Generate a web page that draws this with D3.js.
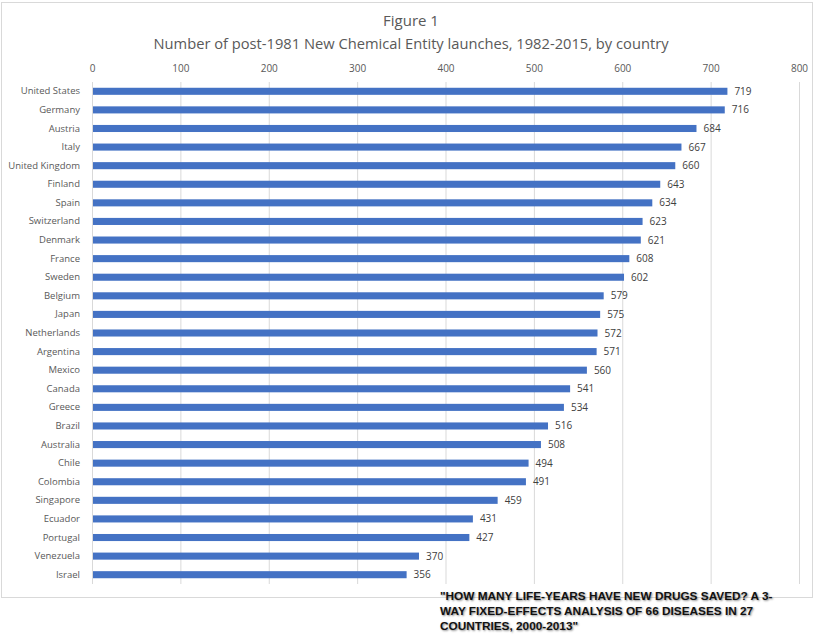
<!DOCTYPE html>
<html>
<head>
<meta charset="utf-8">
<script src="https://cdn.jsdelivr.net/npm/d3@7.9.0/dist/d3.min.js"></script>
<style>
  body { margin:0; background:#fff; }
  .tick text { font-family:"Open Sans", sans-serif; fill:#595959; }
  .foot { font-family:"Liberation Sans", Arial, sans-serif; font-weight:bold; font-size:11.8px; fill:#111;
          text-shadow:1px 1px 2px rgba(0,0,0,0.45); }
</style>
</head>
<body>
<script>
// data
const countries = ['United States','Germany','Austria','Italy','United Kingdom','Finland','Spain',
  'Switzerland','Denmark','France','Sweden','Belgium','Japan','Netherlands','Argentina','Mexico',
  'Canada','Greece','Brazil','Australia','Chile','Colombia','Singapore','Ecuador','Portugal',
  'Venezuela','Israel'];
const launches = [719,716,684,667,660,643,634,623,621,608,602,579,575,572,571,560,541,534,516,508,
  494,491,459,431,427,370,356];
const xTicks = [0,100,200,300,400,500,600,700,800];
const titleLines = ['Figure 1','Number of post-1981 New Chemical Entity launches, 1982-2015, by country'];
const footLines = ['"HOW MANY LIFE-YEARS HAVE NEW DRUGS SAVED? A 3-',
  'WAY FIXED-EFFECTS ANALYSIS OF 66 DISEASES IN 27','COUNTRIES, 2000-2013"'];

const W = 815, H = 642;
const M = { top:82, left:92, right:16, bottom:58 };
const svg = d3.select('body').append('svg').attr('width',W).attr('height',H);

// chart frame
svg.append('rect')
  .attr('x',1.5).attr('y',2.5).attr('width',811).attr('height',595)
  .attr('fill','#fff').attr('stroke','#d9d9d9').attr('stroke-width',1);

const x = d3.scaleLinear().domain([0,800]).range([M.left, 799]);
const y = d3.scaleBand().domain(countries).range([82, 584]).paddingInner(0.62).paddingOuter(0.31);

// grid
svg.append('g').selectAll('line').data(xTicks.slice(1)).join('line')
  .attr('x1',d=>x(d)+0.5).attr('x2',d=>x(d)+0.5)
  .attr('y1',82).attr('y2',584)
  .attr('stroke','#d9d9d9');

// top axis labels
const xAxis = svg.append('g').attr('transform','translate(0,72)')
  .call(d3.axisTop(x).tickValues(xTicks).tickSize(0).tickPadding(0));
xAxis.select('.domain').remove();
xAxis.selectAll('text').attr('font-size',10);

// left axis
const yAxis = svg.append('g').attr('transform',`translate(${M.left},0)`)
  .call(d3.axisLeft(y).tickSize(0).tickPadding(12));
yAxis.select('.domain').attr('stroke','#d9d9d9').attr('d','M0.5,82V584');
yAxis.selectAll('text').attr('font-size',9.5);

// bars
svg.append('g').selectAll('rect').data(countries).join('rect')
  .attr('x',x(0)+1).attr('y',d=>y(d))
  .attr('width',(d,i)=>x(launches[i])-x(0)-1)
  .attr('height',y.bandwidth())
  .attr('fill','#4472c4');

// value labels
svg.append('g').selectAll('text').data(countries).join('text')
  .attr('x',(d,i)=>x(launches[i])+7)
  .attr('y',d=>y(d)+y.bandwidth()/2)
  .attr('dy','0.35em')
  .attr('font-family','"Open Sans", sans-serif')
  .attr('font-size',10).attr('fill','#404040')
  .text((d,i)=>launches[i]);

// titles
svg.selectAll('text.title').data(titleLines).join('text')
  .attr('class','title')
  .attr('x',411).attr('y',(d,i)=>i?49:26)
  .attr('text-anchor','middle')
  .attr('font-family','"Open Sans", sans-serif')
  .attr('font-size',(d,i)=>i?14.7:15)
  .attr('fill','#595959')
  .text(d=>d);

// source note
svg.selectAll('text.foot').data(footLines).join('text')
  .attr('class','foot')
  .attr('x',440).attr('y',(d,i)=>600+i*15.2)
  .text(d=>d);
</script>
</body>
</html>
